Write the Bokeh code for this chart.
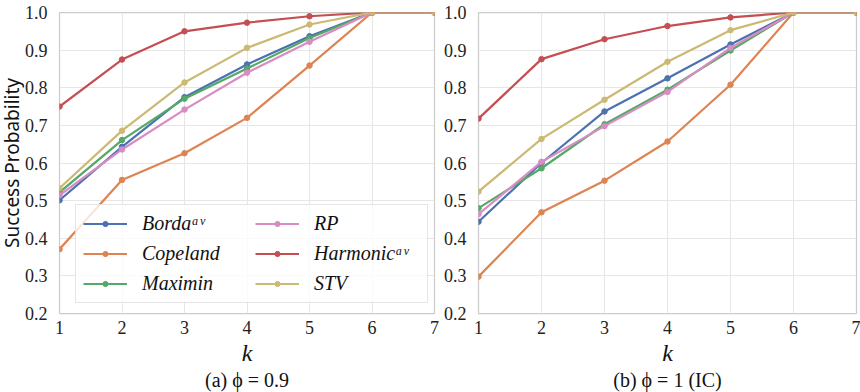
from bokeh.plotting import figure
from bokeh.models import Legend, LegendItem, Range1d, Title, FixedTicker, PrintfTickFormatter
from bokeh.layouts import row
from bokeh.embed import file_html
from bokeh.resources import INLINE

k = [1, 2, 3, 4, 5, 6, 7]
x_ticks = [1, 2, 3, 4, 5, 6, 7]
y_ticks = [0.2, 0.3, 0.4, 0.5, 0.6, 0.7, 0.8, 0.9, 1.0]
names = ["Bordaᵃᵛ", "Copeland", "Maximin", "RP", "Harmonicᵃᵛ", "STV"]
colors = ["#4C72B0", "#DD8452", "#55A868", "#DA8BC3", "#C44E52", "#CCB974"]

# (a) phi = 0.9
a_borda = [0.501, 0.643, 0.775, 0.862, 0.937, 1.0, 1.0]
a_copeland = [0.371, 0.555, 0.626, 0.720, 0.859, 1.0, 1.0]
a_maximin = [0.522, 0.661, 0.771, 0.851, 0.932, 1.0, 1.0]
a_rp = [0.514, 0.636, 0.742, 0.840, 0.922, 1.0, 1.0]
a_harmonic = [0.750, 0.875, 0.950, 0.973, 0.990, 1.0, 1.0]
a_stv = [0.533, 0.686, 0.814, 0.906, 0.968, 1.0, 1.0]

# (b) phi = 1 (IC)
b_borda = [0.444, 0.600, 0.737, 0.825, 0.915, 1.0, 1.0]
b_copeland = [0.298, 0.469, 0.553, 0.657, 0.808, 1.0, 1.0]
b_maximin = [0.480, 0.586, 0.703, 0.795, 0.899, 1.0, 1.0]
b_rp = [0.464, 0.603, 0.698, 0.789, 0.906, 1.0, 1.0]
b_harmonic = [0.718, 0.876, 0.929, 0.964, 0.987, 1.0, 1.0]
b_stv = [0.524, 0.664, 0.768, 0.869, 0.953, 1.0, 1.0]

SERIF = "Liberation Serif"


def make_panel(series, caption, width, left, right, ylabel, with_legend):
    p = figure(width=width, height=392, output_backend="svg", toolbar_location=None,
               x_range=Range1d(1, 7), y_range=Range1d(0.2, 1.0),
               min_border_left=left, min_border_right=right,
               min_border_top=12, min_border_bottom=79)
    p.background_fill_color = "white"
    p.outline_line_color = "#cccccc"
    p.outline_line_width = 1.25
    for ax in (p.xaxis[0], p.yaxis[0]):
        ax.axis_line_color = None
        ax.major_tick_line_color = None
        ax.minor_tick_line_color = None
        ax.major_label_text_font = SERIF
        ax.major_label_text_font_size = "18px"
        ax.major_label_text_color = "#222222"
    p.xaxis[0].ticker = FixedTicker(ticks=x_ticks)
    p.yaxis[0].ticker = FixedTicker(ticks=y_ticks)
    p.yaxis[0].formatter = PrintfTickFormatter(format="%.1f")
    p.xaxis[0].major_label_standoff = 1
    p.yaxis[0].major_label_standoff = 6
    p.xaxis[0].axis_label = "k"
    p.xaxis[0].axis_label_text_font = SERIF
    p.xaxis[0].axis_label_text_font_style = "italic"
    p.xaxis[0].axis_label_text_font_size = "24px"
    p.xaxis[0].axis_label_standoff = 3
    p.xaxis[0].axis_label_text_color = "#111111"
    p.xgrid[0].ticker = FixedTicker(ticks=x_ticks)
    p.ygrid[0].ticker = FixedTicker(ticks=y_ticks)
    p.grid.grid_line_color = "#e6e6e6"
    p.grid.grid_line_width = 1

    items = []
    for name, vals, col in zip(names, series, colors):
        ln = p.line(k, vals, line_color=col, line_width=2.2)
        sc = p.scatter(k, vals, size=5.5, fill_color=col, line_color=col)
        items.append(LegendItem(label=name, renderers=[ln, sc]))

    if ylabel:
        yt = Title(text=ylabel, align="center", text_font="Noto Sans",
                   text_font_style="normal", text_font_size="19px",
                   text_color="#111111", standoff=-7)
        p.add_layout(yt, "left")

    if with_legend:
        lg = Legend(items=items, ncols=2, location=(16, 10))
        lg.label_text_font = SERIF
        lg.label_text_font_style = "italic"
        lg.label_text_font_size = "20px"
        lg.label_text_color = "#111111"
        lg.border_line_color = "#cccccc"
        lg.border_line_width = 1
        lg.background_fill_alpha = 0.8
        lg.glyph_width = 44
        lg.glyph_height = 13
        lg.label_standoff = 15
        lg.label_width = 106
        lg.padding = 7
        lg.spacing = 7
        lg.margin = 0
        p.add_layout(lg)

    t = Title(text=caption, align="center", text_font=SERIF, text_font_style="normal",
              text_font_size="20px", text_color="#111111", standoff=-3)
    p.add_layout(t, "below")
    return p


pa = make_panel([a_borda, a_copeland, a_maximin, a_rp, a_harmonic, a_stv],
                "(a) ϕ = 0.9", 440, 58, 6, "Success Probability", True)
pb = make_panel([b_borda, b_copeland, b_maximin, b_rp, b_harmonic, b_stv],
                "(b) ϕ = 1 (IC)", 420, 38, 4, None, False)

layout = row(pa, pb)
open("out.html", "w").write(file_html(layout, INLINE))
